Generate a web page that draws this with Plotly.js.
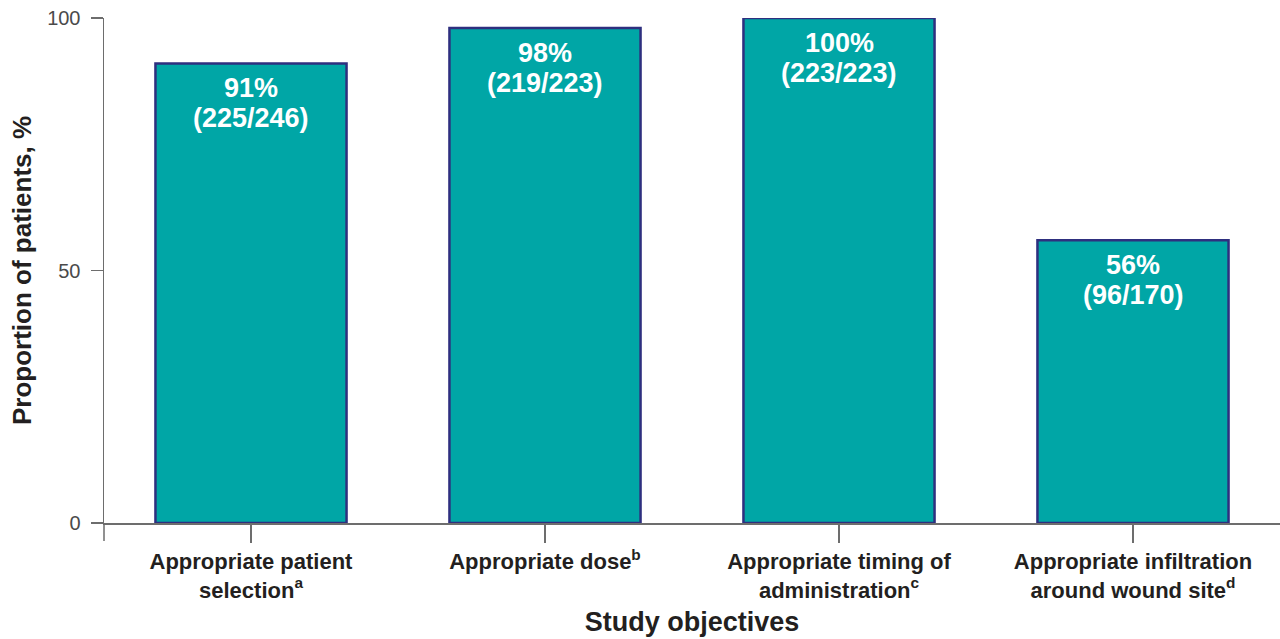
<!DOCTYPE html>
<html>
<head>
<meta charset="utf-8">
<script src="https://cdn.plot.ly/plotly-3.0.1.min.js"></script>
<style>html,body{margin:0;padding:0;background:#fff;}#chart{width:1280px;height:639px;}</style>
</head>
<body>
<div id="chart"></div>
<script>
const categories = [
  "Appropriate patient<br>selection<sup>a</sup>",
  "Appropriate dose<sup>b</sup>",
  "Appropriate timing of<br>administration<sup>c</sup>",
  "Appropriate infiltration<br>around wound site<sup>d</sup>"
];
const percentages = [91, 98, 100, 56];
const counts = ["225/246", "219/223", "223/223", "96/170"];
const yTickValues = [0, 50, 100];

const FONT = "Liberation Sans, Arial, Helvetica, sans-serif";
const labelFont = {family: FONT, size: 27, color: "#ffffff"};

const trace = {
  type: "bar",
  x: categories,
  y: percentages,
  marker: {color: "#00A6A6", line: {color: "#2E2F7F", width: 2.5}},
  hoverinfo: "none"
};

const annotations = [];
categories.forEach((c, i) => {
  annotations.push({
    x: c, y: percentages[i], xref: "x", yref: "y",
    text: "<b>" + percentages[i] + "%</b>",
    showarrow: false, xanchor: "center", yanchor: "top",
    yshift: -8, font: labelFont
  });
  annotations.push({
    x: c, y: percentages[i], xref: "x", yref: "y",
    text: "<b>(" + counts[i] + ")</b>",
    showarrow: false, xanchor: "center", yanchor: "top",
    yshift: -38, font: labelFont
  });
});

const layout = {
  width: 1280,
  height: 639,
  margin: {l: 104, r: 0, t: 18, b: 116},
  paper_bgcolor: "#ffffff",
  plot_bgcolor: "#ffffff",
  bargap: 0.35,
  showlegend: false,
  font: {family: FONT, color: "#231F20"},
  annotations: annotations,
  xaxis: {
    showline: true,
    linecolor: "#6d6d6d",
    linewidth: 1.5,
    ticks: "outside",
    ticklen: 18,
    tickwidth: 1.5,
    tickcolor: "#6d6d6d",
    tickfont: {size: 22, color: "#231F20", family: FONT, weight: "bold"},
    title: {text: "<b>Study objectives</b>", font: {size: 27, color: "#231F20"}, standoff: 10},
    showgrid: false,
    zeroline: false,
    fixedrange: true
  },
  yaxis: {
    range: [0, 100],
    tickvals: yTickValues,
    ticktext: yTickValues.map(String),
    showline: true,
    linecolor: "#6d6d6d",
    linewidth: 1.5,
    ticks: "outside",
    ticklen: 12,
    tickwidth: 1.5,
    tickcolor: "#6d6d6d",
    ticklabelstandoff: 6,
    tickfont: {size: 20, color: "#4a4a4a"},
    title: {text: "<b>Proportion of patients, %</b>", font: {size: 26, color: "#231F20"}, standoff: 8},
    showgrid: false,
    zeroline: false,
    fixedrange: true
  },
  shapes: [{
    type: "line",
    xref: "paper", yref: "paper",
    x0: 0, x1: 0,
    ysizemode: "pixel", yanchor: 0,
    y0: 0, y1: -18,
    line: {color: "#6d6d6d", width: 1.5}
  }]
};

Plotly.newPlot("chart", [trace], layout, {displayModeBar: false, staticPlot: true});
</script>
</body>
</html>
